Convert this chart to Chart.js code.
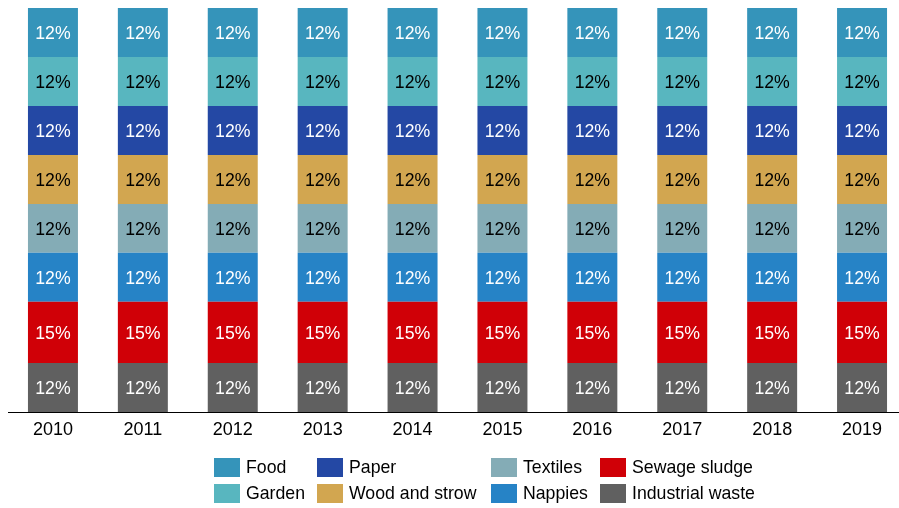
<!DOCTYPE html>
<html>
<head>
<meta charset="utf-8">
<script src="https://cdn.jsdelivr.net/npm/chart.js@4/dist/chart.umd.min.js"></script>
<style>
html,body{margin:0;padding:0;overflow:hidden;background:#fff;}
#wrap{width:907px;height:508px;}
</style>
</head>
<body>
<div id="wrap"><canvas id="c" width="907" height="508"></canvas></div>
<script>
const years = ['2010','2011','2012','2013','2014','2015','2016','2017','2018','2019'];
const industrialWaste = [12,12,12,12,12,12,12,12,12,12];
const sewageSludge    = [15,15,15,15,15,15,15,15,15,15];
const nappies         = [12,12,12,12,12,12,12,12,12,12];
const textiles        = [12,12,12,12,12,12,12,12,12,12];
const woodAndStrow    = [12,12,12,12,12,12,12,12,12,12];
const paper           = [12,12,12,12,12,12,12,12,12,12];
const garden          = [12,12,12,12,12,12,12,12,12,12];
const food            = [12,12,12,12,12,12,12,12,12,12];

const series = [
  {label:'Industrial waste', data:industrialWaste, color:'#606060', text:'#ffffff'},
  {label:'Sewage sludge',    data:sewageSludge,    color:'#D00007', text:'#ffffff'},
  {label:'Nappies',          data:nappies,         color:'#2683C6', text:'#ffffff'},
  {label:'Textiles',         data:textiles,        color:'#84ACB6', text:'#000000'},
  {label:'Wood and strow',   data:woodAndStrow,    color:'#D2A650', text:'#000000'},
  {label:'Paper',            data:paper,           color:'#2448A4', text:'#ffffff'},
  {label:'Garden',           data:garden,          color:'#58B6BF', text:'#000000'},
  {label:'Food',             data:food,            color:'#3594BA', text:'#ffffff'}
];
const total = years.map((_,i)=>series.reduce((s,d)=>s+d.data[i],0));
const maxTotal = Math.max(...total);

const FONT = 'Arial, "Liberation Sans", sans-serif';
const FS = 17.7;

const labelPlugin = {
  id:'barLabels',
  afterDatasetsDraw(chart){
    const ctx = chart.ctx;
    ctx.save();
    ctx.font = FS + 'px ' + FONT;
    ctx.textAlign = 'center';
    ctx.textBaseline = 'middle';
    chart.data.datasets.forEach((ds,di)=>{
      const meta = chart.getDatasetMeta(di);
      meta.data.forEach((bar,i)=>{
        const y = (bar.y + bar.base)/2;
        ctx.fillStyle = ds.labelColor;
        ctx.fillText(ds.data[i] + '%', bar.x, y + 2);
      });
    });
    ctx.restore();
  }
};

const legendOrder = [['Food','Garden'],['Paper','Wood and strow'],['Textiles','Nappies'],['Sewage sludge','Industrial waste']];
const legendPlugin = {
  id:'gridLegend',
  afterDraw(chart){
    const ctx = chart.ctx;
    const colX = [214,317,491,600];
    const rowY = [458,484];
    ctx.save();
    ctx.font = FS + 'px ' + FONT;
    ctx.textAlign = 'left';
    ctx.textBaseline = 'middle';
    legendOrder.forEach((col,ci)=>{
      col.forEach((name,ri)=>{
        const ds = chart.data.datasets.find(d=>d.label===name);
        ctx.fillStyle = ds.backgroundColor;
        ctx.fillRect(colX[ci], rowY[ri], 26, 19);
        ctx.fillStyle = '#000';
        ctx.fillText(name, colX[ci] + 32, rowY[ri] + 10.5);
      });
    });
    ctx.restore();
  }
};

new Chart(document.getElementById('c'), {
  type:'bar',
  data:{
    labels: years,
    datasets: series.map(s=>({
      label:s.label, data:s.data, backgroundColor:s.color, labelColor:s.text,
      borderWidth:0, categoryPercentage:1.0, barPercentage:0.556
    }))
  },
  options:{
    responsive:false,
    animation:false,
    devicePixelRatio:1,
    layout:{padding:{left:8,right:0,top:8,bottom:66}},
    plugins:{legend:{display:false}, tooltip:{enabled:false}},
    scales:{
      x:{
        stacked:true,
        grid:{display:false, drawTicks:false},
        border:{display:true, color:'#000', width:1},
        ticks:{color:'#000', font:{size:18, family:FONT}, padding:7},
        afterFit(scale){ scale.height = 30; }
      },
      y:{
        stacked:true, display:false, min:0, max:maxTotal
      }
    }
  },
  plugins:[labelPlugin, legendPlugin]
});
</script>
</body>
</html>
